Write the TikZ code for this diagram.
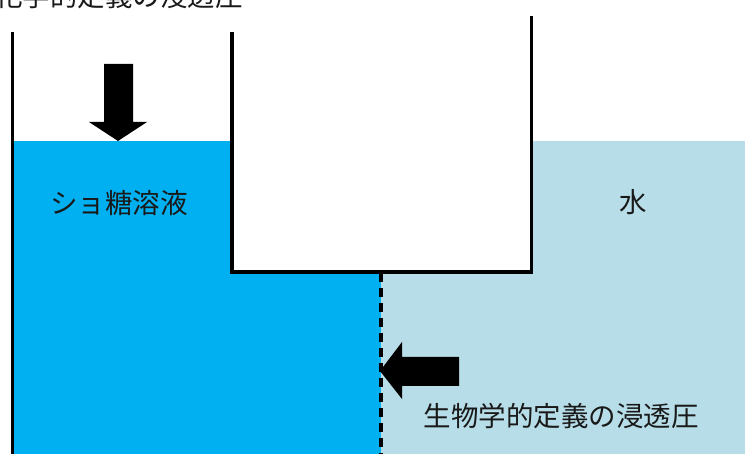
\documentclass[tikz,border=0pt]{standalone}
\usepackage{fontspec}
\newfontfamily\jp{Noto Sans CJK JP}
\definecolor{sucrose}{HTML}{00B0F0}
\definecolor{water}{HTML}{B7DEE8}
\tikzset{
  wall/.style={line width=3.5pt, line cap=butt},
  lbl/.style={font=\jp\fontsize{27.5}{32}\selectfont, text=black!90, inner sep=0pt},
  bigarrow/.style={fill=black, draw=none}
}
\begin{document}
\begin{tikzpicture}[x=1pt,y=-1pt]
\useasboundingbox (0,0) rectangle (745,454);
\clip (0,0) rectangle (745,454);
% liquids
\fill[sucrose] (12,141) rectangle (381,454);
\fill[water] (381,141) rectangle (745,454);
% inner container
\fill[white] (232,16) rectangle (531.5,272);
\draw[wall] (232,32) -- (232,272) -- (531.5,272) -- (531.5,16);
% outer wall
\draw[wall] (12.5,32) -- (12.5,454);
% membrane
\draw[line width=3.8pt, dash pattern=on 9pt off 6pt] (381,273) -- (381,454);
% arrows
\fill[bigarrow] (104,64) -- (133,64) -- (133,122) -- (147,122) -- (118,141) -- (89,122) -- (104,122) -- cycle;
\fill[bigarrow] (459,357) -- (459,386) -- (402,386) -- (402,399) -- (380,371) -- (402,342) -- (402,357) -- cycle;
% labels
\node[lbl] (top) at (119,-4) {化学的定義の浸透圧};
\node[lbl] (suc) at (119,203) {ショ糖溶液};
\node[lbl] (wat) at (633,202) {水};
\node[lbl] (bio) at (561,416) {生物学的定義の浸透圧};
\end{tikzpicture}
\end{document}
